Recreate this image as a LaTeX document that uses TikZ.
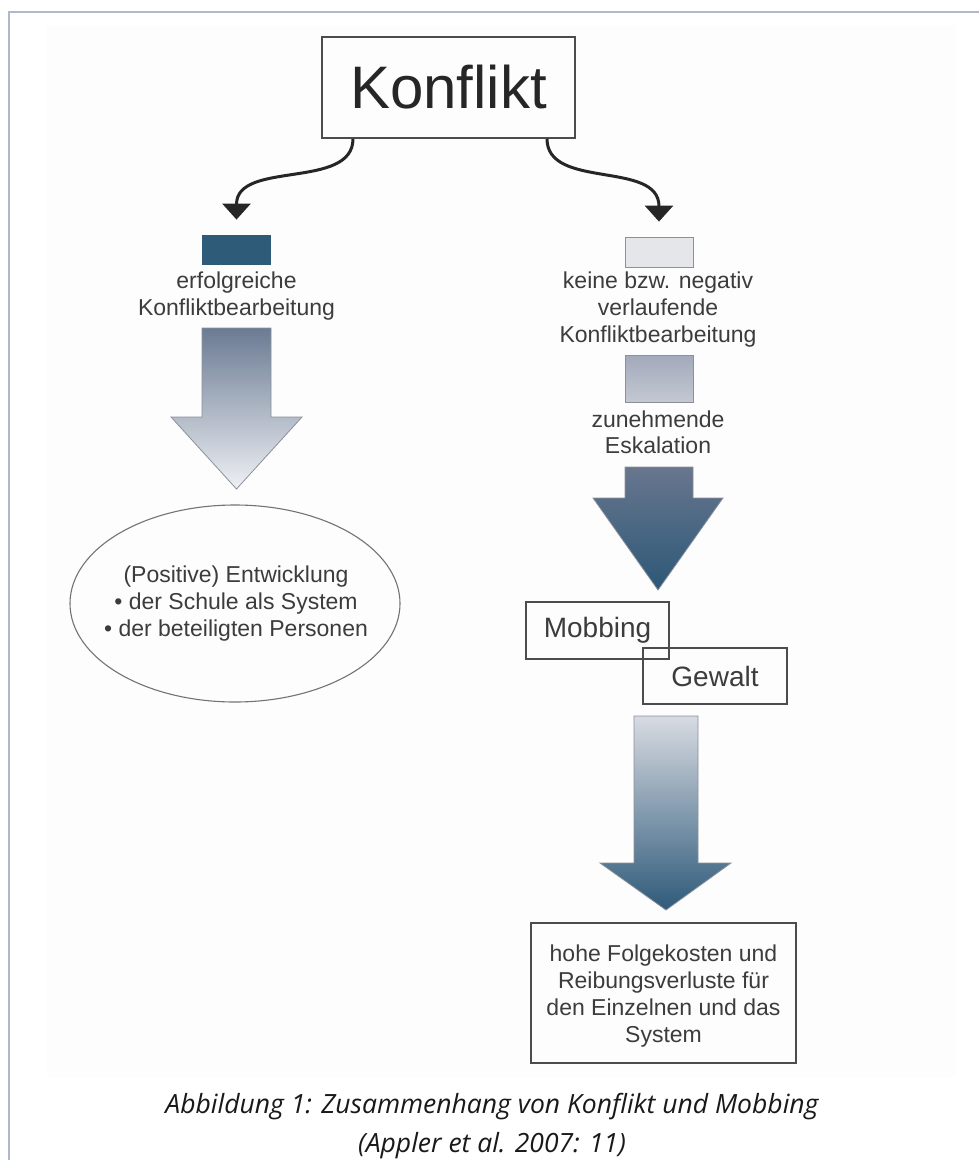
\documentclass[tikz,border=0pt]{standalone}
\usepackage{fontspec}
\setmainfont{Liberation Sans}
\newfontfamily\capfont{Open Sans}
\usetikzlibrary{arrows.meta}
\definecolor{txt}{HTML}{3C3C3C}
\definecolor{frameblue}{HTML}{B0B9CC}
\definecolor{darkbox}{HTML}{2E5B78}
\definecolor{lightbox}{HTML}{E5E6EA}
\definecolor{edge}{HTML}{8C9099}
\definecolor{bgpaper}{HTML}{FDFDFD}
\definecolor{midtop}{HTML}{A2A9BA}
\definecolor{midbot}{HTML}{C4C8D3}
\tikzset{
  bodytext/.style={text=txt, align=center, inner sep=0pt,
    font=\fontsize{23}{27}\selectfont},
  boxed/.style={draw=black!70, line width=1.4pt, text=txt, inner sep=0pt},
  curvearrow/.style={line width=3pt, draw=black!85,
    -{Triangle[width=28pt,length=16pt]}},
  sq/.style={draw=edge, line width=0.8pt, inner sep=0pt, minimum width=68pt},
  bigarrow/.style={draw=edge, line width=0.8pt},
  captext/.style={anchor=base, inner sep=0pt, text=black!90,
    font=\capfont\itshape\fontsize{26.5}{30}\selectfont}
}
\begin{document}
\begin{tikzpicture}[x=1pt,y=-1pt]
\useasboundingbox (0,0) rectangle (978,1160);
\fill[white] (0,0) rectangle (978,1160);
\fill[bgpaper] (47,25) rectangle (956,1077);
% frame
\draw[frameblue, line width=2.6pt] (9,1162) -- (9,12) -- (980,12);

% title box
\node[boxed, line width=1.6pt, minimum width=253pt, minimum height=101pt,
  font=\fontsize{60}{66}\selectfont, text=black!85] (konf) at (448.5,87.5) {Konflikt};

% small squares
\node[sq, fill=darkbox, draw=darkbox, minimum height=29pt] (sqL) at (236.5,249.5) {};
\node[sq, fill=lightbox, minimum height=30pt] (sqR) at (659,252) {};
\node[sq, top color=midtop, bottom color=midbot, minimum height=47pt] (sqR2) at (659,378.5) {};

% curved arrows
\draw[curvearrow] ([xshift=-95.5pt]konf.south) .. controls (353,190) and (236.5,160) .. ([yshift=15pt]sqL.north);
\draw[curvearrow] ([xshift=98.5pt]konf.south) .. controls (547,190) and (659,160) .. ([yshift=15pt]sqR.north);

% texts
\node[bodytext] (tL) at (236.5,296) {erfolgreiche\\Konfliktbearbeitung};
\node[bodytext] (tR) at (658,310) {keine bzw. negativ\\verlaufende\\Konfliktbearbeitung};
\node[bodytext, font=\fontsize{23}{26}\selectfont] (tR2) at (658,432) {zunehmende\\Eskalation};

% big arrows
\shade[bigarrow, top color={rgb,255:red,107;green,123;blue,147}, bottom color={rgb,255:red,238;green,240;blue,244}]
  (202,328) -- (271,328) -- (271,417) -- (302,417) -- (236.5,489) -- (171,417) -- (202,417) -- cycle;
\shade[bigarrow, top color={rgb,255:red,104;green,118;blue,142}, bottom color={rgb,255:red,44;green,88;blue,119}]
  (625,467) -- (693,467) -- (693,498) -- (723,498) -- (658,590) -- (593,498) -- (625,498) -- cycle;
\shade[bigarrow, top color={rgb,255:red,216;green,219;blue,226}, bottom color={rgb,255:red,46;green,90;blue,122}]
  (634,716) -- (698,716) -- (698,863) -- (731,863) -- (666,910) -- (600,863) -- (634,863) -- cycle;

% ellipse
\draw[draw=black!55, line width=1.1pt] (235,603.5) ellipse [x radius=165, y radius=98.5];
\node[bodytext] (ell) at (236,604) {(Positive) Entwicklung\\\textbullet\ der Schule als System\\\textbullet\ der beteiligten Personen};

% Mobbing / Gewalt
\node[boxed, line width=1.2pt, minimum width=143pt, minimum height=57pt,
  font=\fontsize{28}{32}\selectfont] (mob) at (597.5,630.5) {Mobbing};
\node[boxed, line width=1.2pt, minimum width=144pt, minimum height=56pt,
  font=\fontsize{28}{32}\selectfont] (gew) at (715,676) {Gewalt};

% bottom box
\node[boxed, line width=1.6pt, minimum width=265pt, minimum height=140pt] (folg) at (663.5,993) {};
\node[bodytext] (folgt) at (663.5,996) {hohe Folgekosten und\\Reibungsverluste für\\den Einzelnen und das\\System};

% caption
\node[captext] (cap1) at (492,1113) {Abbildung 1: Zusammenhang von Konflikt und Mobbing};
\node[captext] (cap2) at (492,1152) {(Appler et al. 2007: 11)};
\end{tikzpicture}
\end{document}
